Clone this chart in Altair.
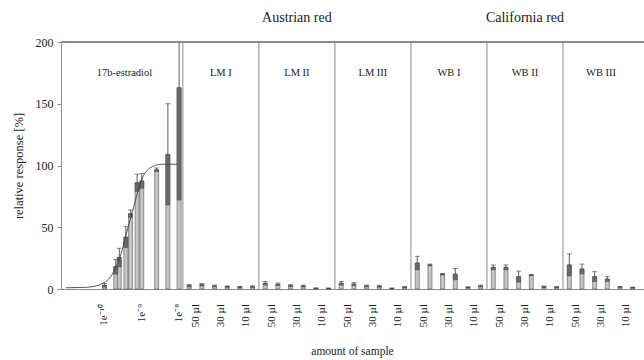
import math
import altair as alt
import pandas as pd

# ---------------- data ----------------
# 17b-estradiol standard series (concentration in M, relative response %, error)
e2_conc = [1e-10, 2e-10, 2.5e-10, 3.75e-10, 5e-10, 7.5e-10, 1e-9, 2.5e-9, 5e-9, 1e-8]
e2_resp = [3, 18, 25.5, 42, 61, 86, 87.5, 96.5, 109, 163]
e2_err = [1.5, 6, 7.5, 8.5, 3, 7, 6, 1.5, 41, 91]

# fitted dose-response curve (log10 concentration, response)
fit_logc = [-11.03, -10.53, -10.26, -10.05, -9.89, -9.79, -9.66, -9.53, -9.42,
            -9.34, -9.21, -9.08, -8.95, -8.82, -8.68, -8.47, -8.03]
fit_resp = [1.0, 1.3, 2.2, 4.5, 8, 12, 20, 31, 44, 53, 67, 82, 92, 97, 99.5, 101, 101]

# samples: two bars per dilution (50, 30, 10 µl)
panels = ["LM I", "LM II", "LM III", "WB I", "WB II", "WB III"]
lm1_resp = [2.7, 3.5, 2.4, 1.9, 1.6, 1.9]
lm1_err = [1.0, 1.0, 0.8, 0.6, 0.5, 0.6]
lm2_resp = [4.6, 3.8, 2.7, 2.4, 0.5, 0.5]
lm2_err = [1.5, 1.0, 0.8, 0.8, 0.3, 0.3]
lm3_resp = [4.6, 4.0, 2.4, 2.2, 0.5, 1.4]
lm3_err = [1.5, 1.2, 0.8, 0.8, 0.3, 0.5]
wb1_resp = [21, 19.5, 12, 12, 1.3, 2.4]
wb1_err = [5.5, 0.7, 0.6, 4.6, 0.5, 0.8]
wb2_resp = [17.5, 17.5, 10, 11.3, 1.8, 1.4]
wb2_err = [2, 2, 4.5, 0.6, 0.6, 0.5]
wb3_resp = [19.5, 16.2, 10, 8, 1.6, 1.1]
wb3_err = [9, 4, 4, 2, 0.5, 0.4]
sample_resp = [lm1_resp, lm2_resp, lm3_resp, wb1_resp, wb2_resp, wb3_resp]
sample_err = [lm1_err, lm2_err, lm3_err, wb1_err, wb2_err, wb3_err]

sample_volumes = ["50 µl", "30 µl", "10 µl"]
e2_tick_logc = [-10, -9, -8]
e2_tick_labels = ["1e⁻¹⁰", "1e⁻⁹", "1e⁻⁸"]
groups = ["Austrian red", "California red"]
group_panels = [[0, 1, 2], [3, 4, 5]]

# ---------------- layout (x in "slot" units) ----------------
LOG_LEFT = -11.03
SLOTS_PER_DECADE = 2.946
E_WIDTH = 9.225
X_MAX = E_WIDTH + 6 * len(panels)
W, H = 583, 247
FONT = "Liberation Serif"
TXT = "#222222"


def e2x(logc):
    return (logc - LOG_LEFT) * SLOTS_PER_DECADE


def panel_start(i):
    return E_WIDTH + 6 * i


rows = []
for c, v, e in zip(e2_conc, e2_resp, e2_err):
    rows.append({"x": e2x(math.log10(c)), "v": v, "lo": max(v - e, 0), "hi": v + e})
for i, (vals, errs) in enumerate(zip(sample_resp, sample_err)):
    for j, (v, e) in enumerate(zip(vals, errs)):
        rows.append({"x": panel_start(i) + j + 0.5, "v": v, "lo": max(v - e, 0), "hi": v + e})
bars = pd.DataFrame(rows)

curve = pd.DataFrame({"x": [e2x(l) for l in fit_logc], "v": fit_resp})

seps = pd.DataFrame({"x": [panel_start(i) for i in range(len(panels))]})

plabels = pd.DataFrame({
    "x": [E_WIDTH / 2] + [panel_start(i) + 3 for i in range(len(panels))],
    "t": ["17b-estradiol"] + panels,
})

glabels = pd.DataFrame({
    "x": [sum(panel_start(p) + 3 for p in g) / len(g) for g in group_panels],
    "t": groups,
})

tick_rows = [{"x": e2x(l), "t": t} for l, t in zip(e2_tick_logc, e2_tick_labels)]
for i in range(len(panels)):
    for k, t in enumerate(sample_volumes):
        tick_rows.append({"x": panel_start(i) + 1 + 2 * k, "t": t})
ticks = pd.DataFrame(tick_rows)

xtitle = pd.DataFrame({"x": [X_MAX / 2], "t": ["amount of sample"]})

xscale = alt.Scale(domain=[0, X_MAX], nice=False, zero=False)
yscale = alt.Scale(domain=[0, 200], nice=False)

X = alt.X("x:Q", scale=xscale, axis=alt.Axis(labels=False, ticks=False, title=None,
                                              domainColor="#8a8a8a", grid=False))

bar_layer = alt.Chart(bars).mark_bar(orient="vertical", size=4, fill="#c6c6c6",
                                     stroke="#555555", strokeWidth=0.6).encode(
    x=X,
    y=alt.Y("v:Q", scale=yscale, axis=alt.Axis(
        values=[0, 50, 100, 150, 200], grid=False, tickSize=4, labelPadding=4,
        labelFont=FONT, labelFontSize=12, labelColor=TXT,
        domainColor="#8a8a8a", tickColor="#8a8a8a",
        title="relative response [%]", titleFont=FONT, titleFontSize=12.5,
        titleFontWeight="normal", titleColor=TXT, titlePadding=10)),
)

box_layer = alt.Chart(bars).mark_bar(orient="vertical", size=4, fill="#6a6a6a",
                                     stroke="#444444", strokeWidth=0.5).encode(
    x="x:Q", y="lo:Q", y2="v:Q")

whisker = alt.Chart(bars).mark_rule(color="#333333", strokeWidth=0.8, clip=True).encode(
    x="x:Q", y="v:Q", y2="hi:Q")

caps = alt.Chart(bars).transform_filter("datum.hi <= 200").mark_tick(
    orient="horizontal", size=5, thickness=0.8, color="#333333").encode(
    x="x:Q", y="hi:Q")

curve_layer = alt.Chart(curve).mark_line(interpolate="monotone", color="#444444",
                                         strokeWidth=0.9).encode(x="x:Q", y="v:Q")

sep_layer = alt.Chart(seps).mark_rule(color="#8a8a8a", strokeWidth=1).encode(
    x="x:Q", y=alt.value(0), y2=alt.value(H))

top_border = alt.Chart(seps).mark_rule(color="#8a8a8a", strokeWidth=1).encode(
    x=alt.value(0), x2=alt.value(W), y=alt.value(0))

panel_text = alt.Chart(plabels).mark_text(font=FONT, fontSize=10.5, color=TXT).encode(
    x="x:Q", y=alt.value(31), text="t:N")

group_text = alt.Chart(glabels).mark_text(font=FONT, fontSize=14, color=TXT).encode(
    x="x:Q", y=alt.value(-24), text="t:N")

tick_text = alt.Chart(ticks).mark_text(font=FONT, fontSize=11, color=TXT, angle=270,
                                       align="right", baseline="middle").encode(
    x="x:Q", y=alt.value(H + 15), text="t:N")

xtitle_text = alt.Chart(xtitle).mark_text(font=FONT, fontSize=11.5, color=TXT).encode(
    x="x:Q", y=alt.value(H + 63), text="t:N")

chart = alt.layer(
    bar_layer, box_layer, whisker, caps, curve_layer, sep_layer, top_border,
    panel_text, group_text, tick_text, xtitle_text,
).properties(
    width=W, height=H,
    padding={"left": 61, "top": 42, "right": 0, "bottom": 71},
    autosize=alt.AutoSizeParams(type="none"),
    background="white",
).configure_view(stroke=None)

chart.save("out.html", embed_options={"renderer": "svg", "actions": False})
